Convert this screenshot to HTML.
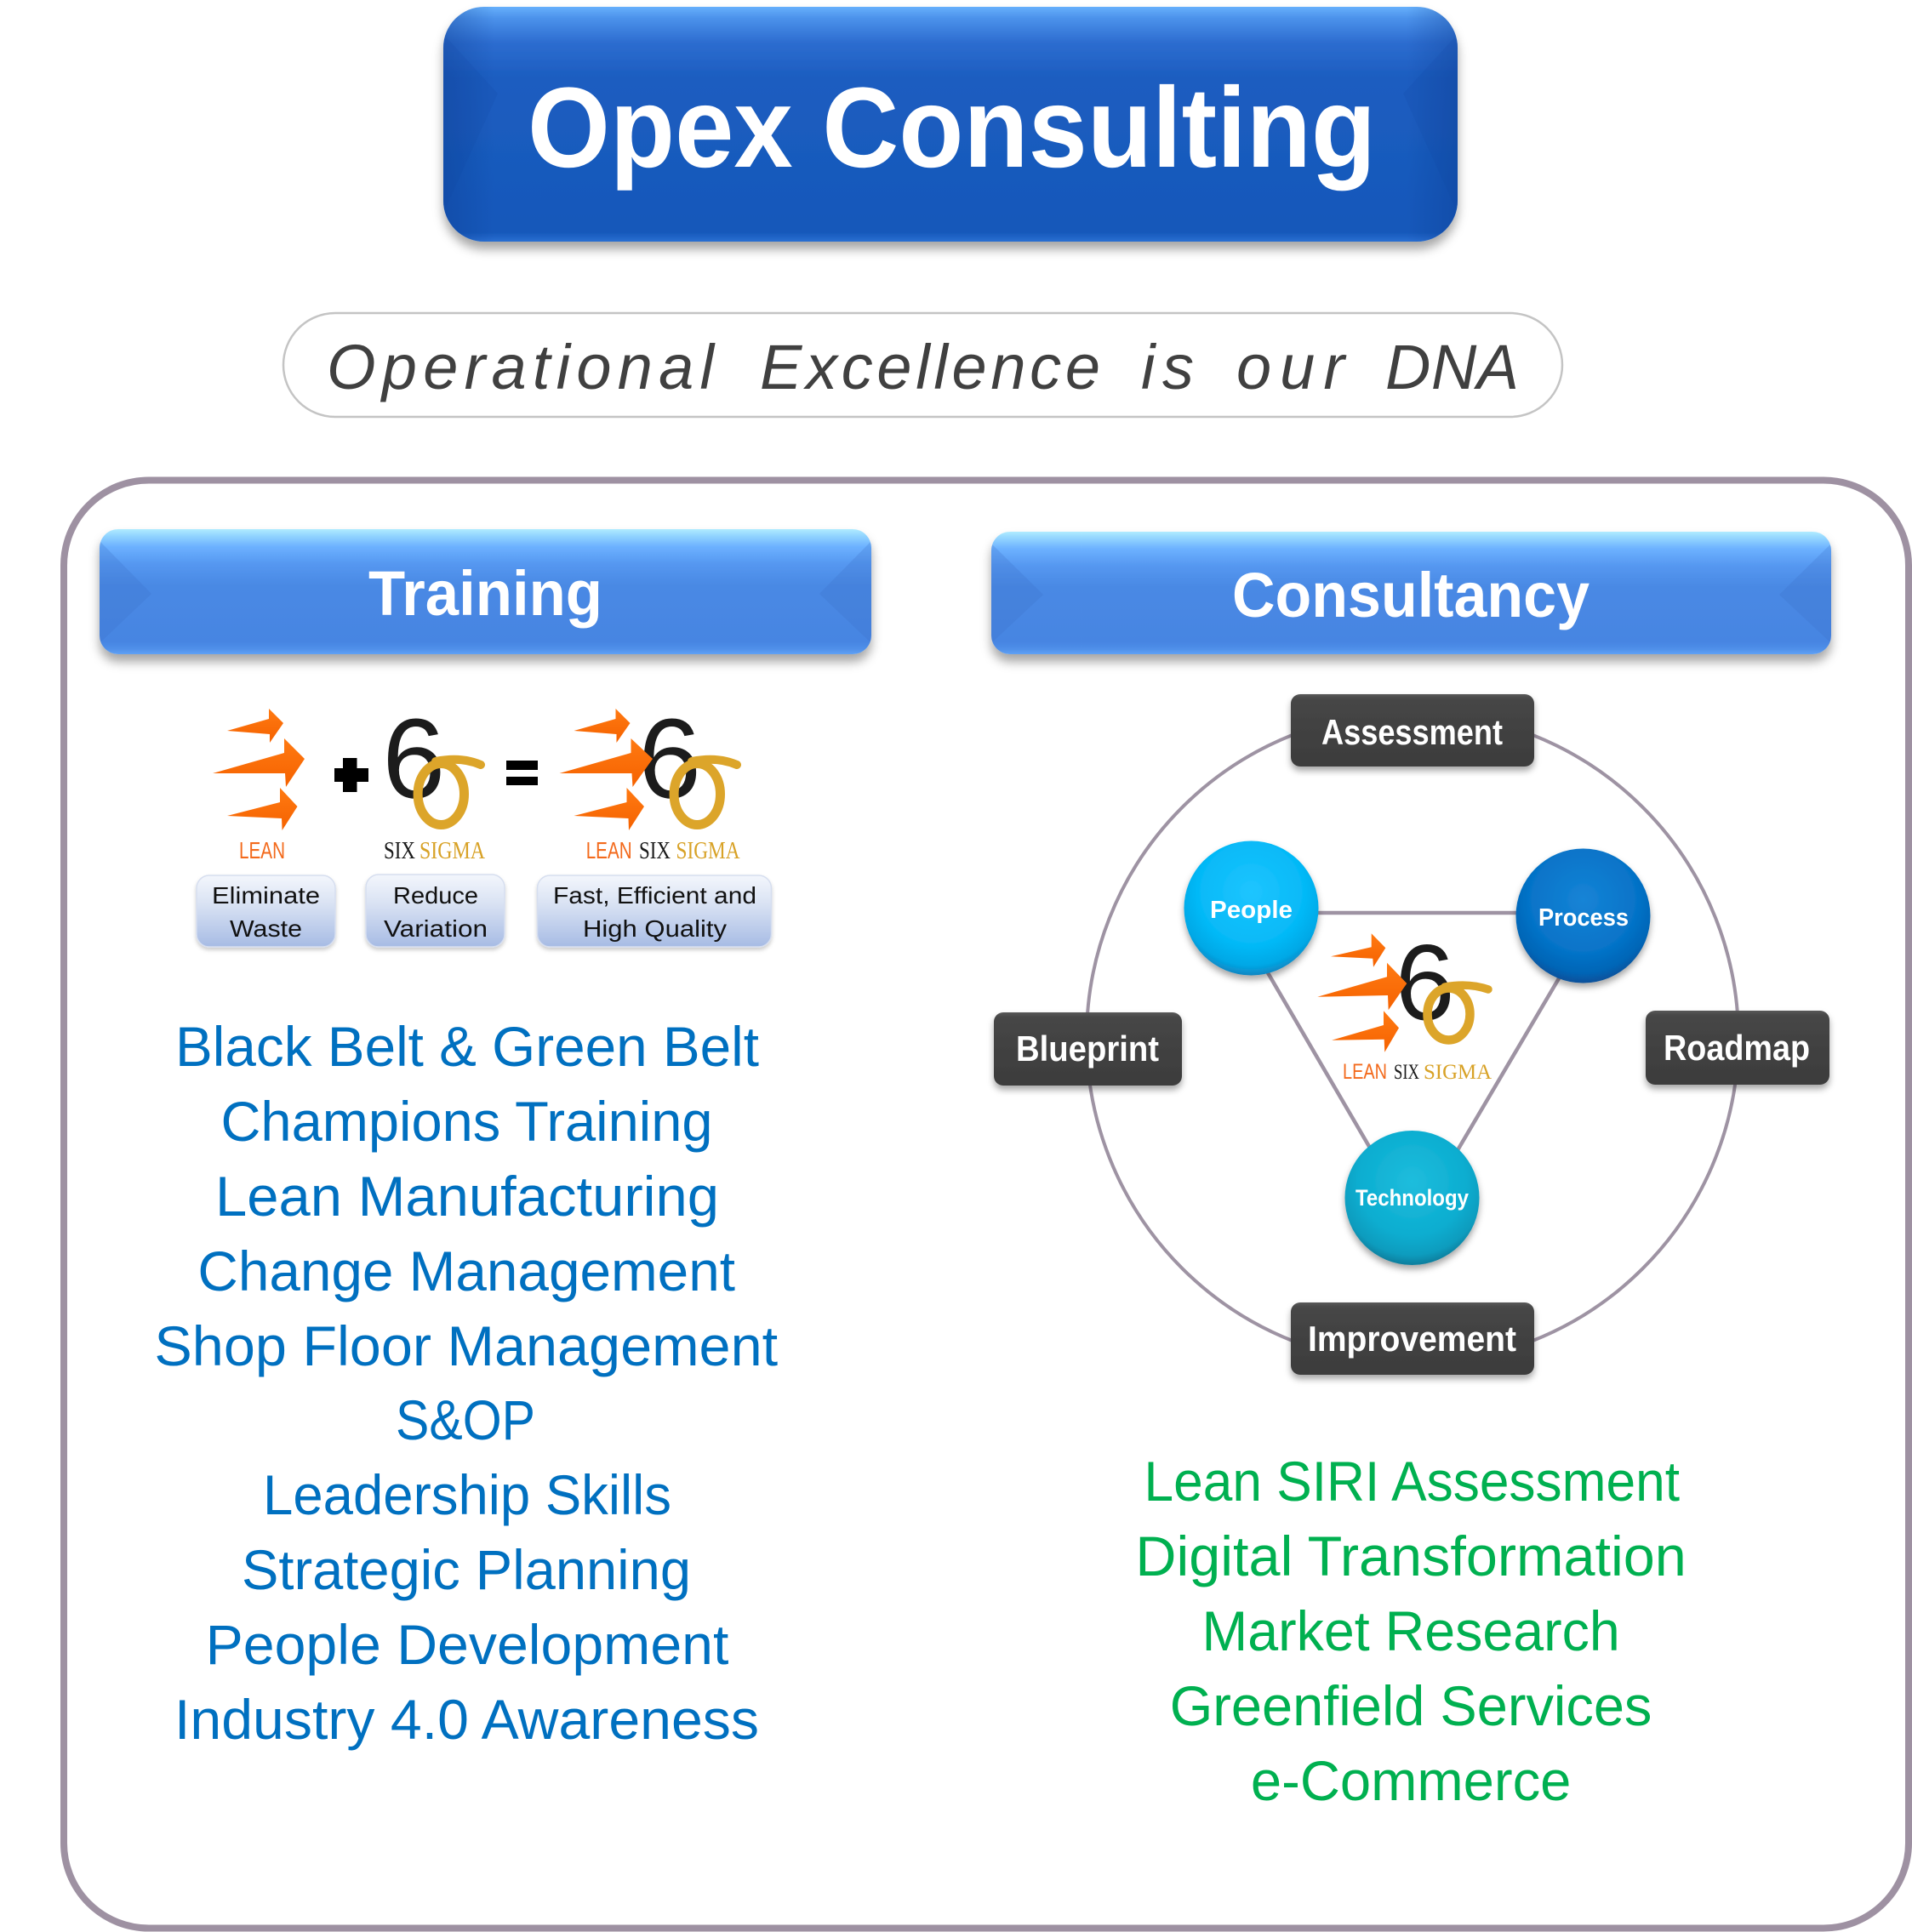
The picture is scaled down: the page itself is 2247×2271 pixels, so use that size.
<!DOCTYPE html>
<html><head><meta charset="utf-8"><style>
html,body{margin:0;padding:0;background:#fff;}
svg{display:block;}
text{font-family:"Liberation Sans",Arial,sans-serif;}
</style></head><body>
<svg width="2247" height="2271" viewBox="0 0 2247 2271" xmlns="http://www.w3.org/2000/svg">
<defs>
<filter id="sh" x="-10%" y="-20%" width="120%" height="160%"><feDropShadow dx="0" dy="9" stdDeviation="6" flood-color="#000" flood-opacity="0.35"/></filter>
<filter id="sh2" x="-20%" y="-20%" width="140%" height="160%"><feDropShadow dx="0" dy="5" stdDeviation="4" flood-color="#000" flood-opacity="0.35"/></filter>
<filter id="sh3" x="-10%" y="-20%" width="120%" height="160%"><feDropShadow dx="0" dy="3" stdDeviation="2.5" flood-color="#000" flood-opacity="0.2"/></filter>
<linearGradient id="gTitle" x1="0" y1="0" x2="0" y2="1">
<stop offset="0" stop-color="#66b0fc"/><stop offset="0.05" stop-color="#4b91ea"/><stop offset="0.15" stop-color="#2d6dd0"/><stop offset="0.3" stop-color="#1c5dc0"/><stop offset="0.96" stop-color="#1658ba"/><stop offset="1" stop-color="#2a6fd2"/>
</linearGradient>
<linearGradient id="gSide" x1="0" y1="0" x2="1" y2="0">
<stop offset="0" stop-color="#0b3a8c" stop-opacity="0.35"/><stop offset="0.05" stop-color="#0b3a8c" stop-opacity="0"/><stop offset="0.95" stop-color="#0b3a8c" stop-opacity="0"/><stop offset="1" stop-color="#0b3a8c" stop-opacity="0.35"/>
</linearGradient>
<linearGradient id="gHead" x1="0" y1="0" x2="0" y2="1">
<stop offset="0" stop-color="#b0ecff"/><stop offset="0.05" stop-color="#94d6ff"/><stop offset="0.14" stop-color="#6cb1ff"/><stop offset="0.28" stop-color="#5597f0"/><stop offset="0.45" stop-color="#4a89e4"/><stop offset="0.9" stop-color="#4685e2"/><stop offset="0.96" stop-color="#5090ea"/><stop offset="1" stop-color="#60a2f4"/>
</linearGradient>
<linearGradient id="gDark" x1="0" y1="0" x2="0" y2="1">
<stop offset="0" stop-color="#585858"/><stop offset="0.07" stop-color="#464646"/><stop offset="1" stop-color="#3c3c3c"/>
</linearGradient>
<linearGradient id="gBox" x1="0" y1="0" x2="0" y2="1">
<stop offset="0" stop-color="#f3f6fc"/><stop offset="0.4" stop-color="#d9e2f3"/><stop offset="1" stop-color="#a6bbe4"/>
</linearGradient>
<linearGradient id="gArr" x1="0" y1="0" x2="0" y2="1">
<stop offset="0" stop-color="#ff7a12"/><stop offset="1" stop-color="#f56200"/>
</linearGradient>
<radialGradient id="gP" cx="50%" cy="38%" r="62%">
<stop offset="0" stop-color="#1fc5ff"/><stop offset="0.65" stop-color="#05b9f7"/><stop offset="0.88" stop-color="#04a8e6"/><stop offset="1" stop-color="#0a86c2"/>
</radialGradient>
<radialGradient id="gR" cx="50%" cy="38%" r="62%">
<stop offset="0" stop-color="#1684d6"/><stop offset="0.65" stop-color="#0673c8"/><stop offset="0.88" stop-color="#0665b6"/><stop offset="1" stop-color="#07509a"/>
</radialGradient>
<radialGradient id="gT" cx="50%" cy="38%" r="62%">
<stop offset="0" stop-color="#1fbddd"/><stop offset="0.65" stop-color="#0badd0"/><stop offset="0.88" stop-color="#0a9cbe"/><stop offset="1" stop-color="#0a7d9c"/>
</radialGradient>
<clipPath id="cTitle"><rect x="521" y="8" width="1192" height="276" rx="48"/></clipPath>
<clipPath id="cH1"><rect x="117" y="622" width="907" height="147" rx="22"/></clipPath>
<clipPath id="cH2"><rect x="1165" y="625" width="987" height="144" rx="22"/></clipPath>
</defs>

<!-- Title -->
<g filter="url(#sh)"><rect x="521" y="8" width="1192" height="276" rx="48" fill="url(#gTitle)"/></g>
<g clip-path="url(#cTitle)">
<rect x="521" y="8" width="1192" height="276" fill="url(#gSide)"/>
<polygon points="521,40 585,110 521,250" fill="#0d43a0" opacity="0.12"/>
<polygon points="1713,40 1649,110 1713,250" fill="#0d43a0" opacity="0.12"/>
</g>
<text x="620" y="196" font-size="134" font-weight="bold" fill="#fff" textLength="997" lengthAdjust="spacingAndGlyphs">Opex Consulting</text>

<!-- Tagline -->
<rect x="333" y="368" width="1503" height="122" rx="61" fill="#fff" stroke="#c4c4c4" stroke-width="2.5"/>
<g font-size="74" font-style="italic" fill="#404040">
<text x="384" y="457" textLength="455" lengthAdjust="spacing">Operational</text>
<text x="893" y="457" textLength="400" lengthAdjust="spacing">Excellence</text>
<text x="1341" y="457" textLength="62" lengthAdjust="spacing">is</text>
<text x="1453" y="457" textLength="127" lengthAdjust="spacing">our</text>
<text x="1628" y="457" textLength="157" lengthAdjust="spacing">DNA</text>
</g>

<!-- Container -->
<rect x="75" y="564.5" width="2168" height="1702" rx="100" fill="#fff" stroke="#9e91a2" stroke-width="8"/>

<!-- Headers -->
<g filter="url(#sh)"><rect x="117" y="622" width="907" height="147" rx="22" fill="url(#gHead)"/></g>
<g clip-path="url(#cH1)">
<polygon points="117,636 178,698 117,756" fill="#3a70c6" opacity="0.25"/>
<polygon points="1024,636 963,698 1024,756" fill="#3a70c6" opacity="0.25"/>
</g>
<text x="433" y="723" font-size="74" font-weight="bold" fill="#fff" textLength="275" lengthAdjust="spacingAndGlyphs">Training</text>

<g filter="url(#sh)"><rect x="1165" y="625" width="987" height="144" rx="22" fill="url(#gHead)"/></g>
<g clip-path="url(#cH2)">
<polygon points="1165,639 1226,699 1165,756" fill="#3a70c6" opacity="0.25"/>
<polygon points="2152,639 2091,699 2152,756" fill="#3a70c6" opacity="0.25"/>
</g>
<text x="1448" y="725" font-size="74" font-weight="bold" fill="#fff" textLength="420" lengthAdjust="spacingAndGlyphs">Consultancy</text>

<!-- Training logos -->
<g>
<text x="449.3" y="937.4" font-size="133" fill="#1c1c1c">6</text>
<ellipse cx="518.3" cy="933.5" rx="27.2" ry="36" fill="none" stroke="#dca52a" stroke-width="11"/>
<path d="M512,895 Q542,889 565,899" fill="none" stroke="#dca52a" stroke-width="10" stroke-linecap="round"/>
<polygon points="267,859 316,845 316,833 333,850 317,873 317,863" fill="url(#gArr)"/>
<polygon points="250,909 334,885 334,868 358,892 336,925 335,909" fill="url(#gArr)"/>
<polygon points="267,959 329,943 329,926 349.5,948 331.6,976 331,962" fill="url(#gArr)"/>
<rect x="403" y="891" width="16.5" height="40" fill="#000"/>
<rect x="393" y="903" width="40" height="16" fill="#000"/>
<rect x="595" y="894" width="37" height="11" fill="#000"/>
<rect x="595" y="913" width="37" height="10" fill="#000"/>
<text x="750" y="937.4" font-size="133" fill="#1c1c1c">6</text>
<ellipse cx="819.3" cy="933.5" rx="27.2" ry="36" fill="none" stroke="#dca52a" stroke-width="11"/>
<path d="M813,895 Q843,889 866,899" fill="none" stroke="#dca52a" stroke-width="10" stroke-linecap="round"/>
<polygon points="674.5,859 723.5,845 723.5,833 740.5,850 724.5,873 724.5,863" fill="url(#gArr)"/>
<polygon points="657.5,909 741.5,885 741.5,868 767,892 743.5,925 742.5,909" fill="url(#gArr)"/>
<polygon points="674.5,959 736.5,943 736.5,926 757,948 739,976 738.5,962" fill="url(#gArr)"/>
</g>
<g font-size="28">
<text x="281" y="1009" fill="#f36a1c" textLength="54" lengthAdjust="spacingAndGlyphs">LEAN</text>
<text x="451" y="1009" fill="#1a1a1a" style="font-family:'Liberation Serif',serif" textLength="37" lengthAdjust="spacingAndGlyphs">SIX</text>
<text x="493" y="1009" fill="#d8a227" style="font-family:'Liberation Serif',serif" textLength="77" lengthAdjust="spacingAndGlyphs">SIGMA</text>
<text x="688.7" y="1009" fill="#f36a1c" textLength="54" lengthAdjust="spacingAndGlyphs">LEAN</text>
<text x="751" y="1009" fill="#1a1a1a" style="font-family:'Liberation Serif',serif" textLength="37" lengthAdjust="spacingAndGlyphs">SIX</text>
<text x="794.5" y="1009" fill="#d8a227" style="font-family:'Liberation Serif',serif" textLength="75" lengthAdjust="spacingAndGlyphs">SIGMA</text>
</g>

<!-- Training boxes -->
<g filter="url(#sh3)">
<rect x="231" y="1029" width="163" height="84" rx="15" fill="url(#gBox)" stroke="#d6deef" stroke-width="1.5"/>
<rect x="430" y="1028" width="163" height="85" rx="15" fill="url(#gBox)" stroke="#d6deef" stroke-width="1.5"/>
<rect x="631.5" y="1029" width="275" height="84" rx="15" fill="url(#gBox)" stroke="#d6deef" stroke-width="1.5"/>
</g>
<g font-size="28" fill="#111">
<text x="249" y="1062" textLength="127" lengthAdjust="spacingAndGlyphs">Eliminate</text>
<text x="270" y="1101" textLength="85" lengthAdjust="spacingAndGlyphs">Waste</text>
<text x="462" y="1062" textLength="100" lengthAdjust="spacingAndGlyphs">Reduce</text>
<text x="451" y="1101" textLength="122" lengthAdjust="spacingAndGlyphs">Variation</text>
<text x="650" y="1062" textLength="239" lengthAdjust="spacingAndGlyphs">Fast, Efficient and</text>
<text x="685" y="1101" textLength="169" lengthAdjust="spacingAndGlyphs">High Quality</text>
</g>

<!-- Training list -->
<g font-size="66" fill="#0070c0">
<text x="206" y="1253" textLength="686" lengthAdjust="spacingAndGlyphs">Black Belt &amp; Green Belt</text>
<text x="259.5" y="1341" textLength="578" lengthAdjust="spacingAndGlyphs">Champions Training</text>
<text x="253" y="1429" textLength="592" lengthAdjust="spacingAndGlyphs">Lean Manufacturing</text>
<text x="232.4" y="1517" textLength="631.6" lengthAdjust="spacingAndGlyphs">Change Management</text>
<text x="181.4" y="1605" textLength="732.7" lengthAdjust="spacingAndGlyphs">Shop Floor Management</text>
<text x="465" y="1692" textLength="164" lengthAdjust="spacingAndGlyphs">S&amp;OP</text>
<text x="309" y="1780" textLength="480" lengthAdjust="spacingAndGlyphs">Leadership Skills</text>
<text x="284" y="1868" textLength="528" lengthAdjust="spacingAndGlyphs">Strategic Planning</text>
<text x="241.6" y="1956" textLength="614.8" lengthAdjust="spacingAndGlyphs">People Development</text>
<text x="205" y="2044" textLength="687" lengthAdjust="spacingAndGlyphs">Industry 4.0 Awareness</text>
</g>

<!-- Consultancy diagram -->
<circle cx="1660" cy="1220" r="383" fill="none" stroke="#9e93a3" stroke-width="4"/>
<g stroke="#9e93a3" stroke-width="4.5" fill="none">
<line x1="1540" y1="1073" x2="1790" y2="1073"/>
<line x1="1478" y1="1123" x2="1625" y2="1375"/>
<line x1="1845" y1="1128" x2="1700" y2="1374"/>
</g>

<g filter="url(#sh2)">
<rect x="1517" y="816" width="286" height="85" rx="11" fill="url(#gDark)"/>
<rect x="1517" y="1531" width="286" height="85" rx="11" fill="url(#gDark)"/>
<rect x="1168" y="1190" width="221" height="86" rx="11" fill="url(#gDark)"/>
<rect x="1934" y="1188" width="216" height="87" rx="11" fill="url(#gDark)"/>
</g>
<g font-size="42" font-weight="bold" fill="#fff">
<text x="1553" y="875" textLength="213" lengthAdjust="spacingAndGlyphs">Assessment</text>
<text x="1537" y="1588" textLength="245" lengthAdjust="spacingAndGlyphs">Improvement</text>
<text x="1194" y="1247" textLength="168" lengthAdjust="spacingAndGlyphs">Blueprint</text>
<text x="1955" y="1246" textLength="172" lengthAdjust="spacingAndGlyphs">Roadmap</text>
</g>

<g filter="url(#sh2)">
<circle cx="1470.5" cy="1067.5" r="79" fill="url(#gP)"/>
<circle cx="1860.5" cy="1076.5" r="79" fill="url(#gR)"/>
<circle cx="1659.5" cy="1408" r="79" fill="url(#gT)"/>
</g>
<g font-weight="bold" fill="#fff">
<text x="1422" y="1079" font-size="29" textLength="97" lengthAdjust="spacingAndGlyphs">People</text>
<text x="1808" y="1088" font-size="29" textLength="106" lengthAdjust="spacingAndGlyphs">Process</text>
<text x="1593" y="1417" font-size="27" textLength="133" lengthAdjust="spacingAndGlyphs">Technology</text>
</g>

<!-- Center logo -->
<text x="1639.5" y="1198.5" font-size="126" fill="#1c1c1c">6</text>
<ellipse cx="1702.5" cy="1192" rx="25" ry="30.5" fill="none" stroke="#dca52a" stroke-width="10.5"/>
<path d="M1698,1160 Q1726,1155 1749,1163" fill="none" stroke="#dca52a" stroke-width="9.5" stroke-linecap="round"/>
<polygon points="1564,1124.3 1611.7,1113.3 1611.7,1097.3 1628.3,1114.3 1614,1136.7 1613.3,1126.7" fill="url(#gArr)"/>
<polygon points="1548.3,1171.7 1630,1148.3 1630,1131.7 1653.3,1156 1631.7,1187.3 1631,1170" fill="url(#gArr)"/>
<polygon points="1565,1222.7 1626,1205 1626,1188.3 1644,1208.3 1627.3,1236.7 1626.7,1221.7" fill="url(#gArr)"/>
<g font-size="25">
<text x="1578" y="1268" fill="#f36a1c" textLength="52" lengthAdjust="spacingAndGlyphs">LEAN</text>
<text x="1638" y="1268" fill="#1a1a1a" style="font-family:'Liberation Serif',serif" textLength="30" lengthAdjust="spacingAndGlyphs">SIX</text>
<text x="1673" y="1268" fill="#d8a227" style="font-family:'Liberation Serif',serif" textLength="80" lengthAdjust="spacingAndGlyphs">SIGMA</text>
</g>

<!-- Consultancy list -->
<g font-size="66" fill="#00b050">
<text x="1344.5" y="1764" textLength="629.5" lengthAdjust="spacingAndGlyphs">Lean SIRI Assessment</text>
<text x="1334.4" y="1852" textLength="647.4" lengthAdjust="spacingAndGlyphs">Digital Transformation</text>
<text x="1412.5" y="1940" textLength="491.3" lengthAdjust="spacingAndGlyphs">Market Research</text>
<text x="1374.8" y="2028" textLength="566.6" lengthAdjust="spacingAndGlyphs">Greenfield Services</text>
<text x="1469.9" y="2116" textLength="376.5" lengthAdjust="spacingAndGlyphs">e-Commerce</text>
</g>
</svg>
</body></html>
